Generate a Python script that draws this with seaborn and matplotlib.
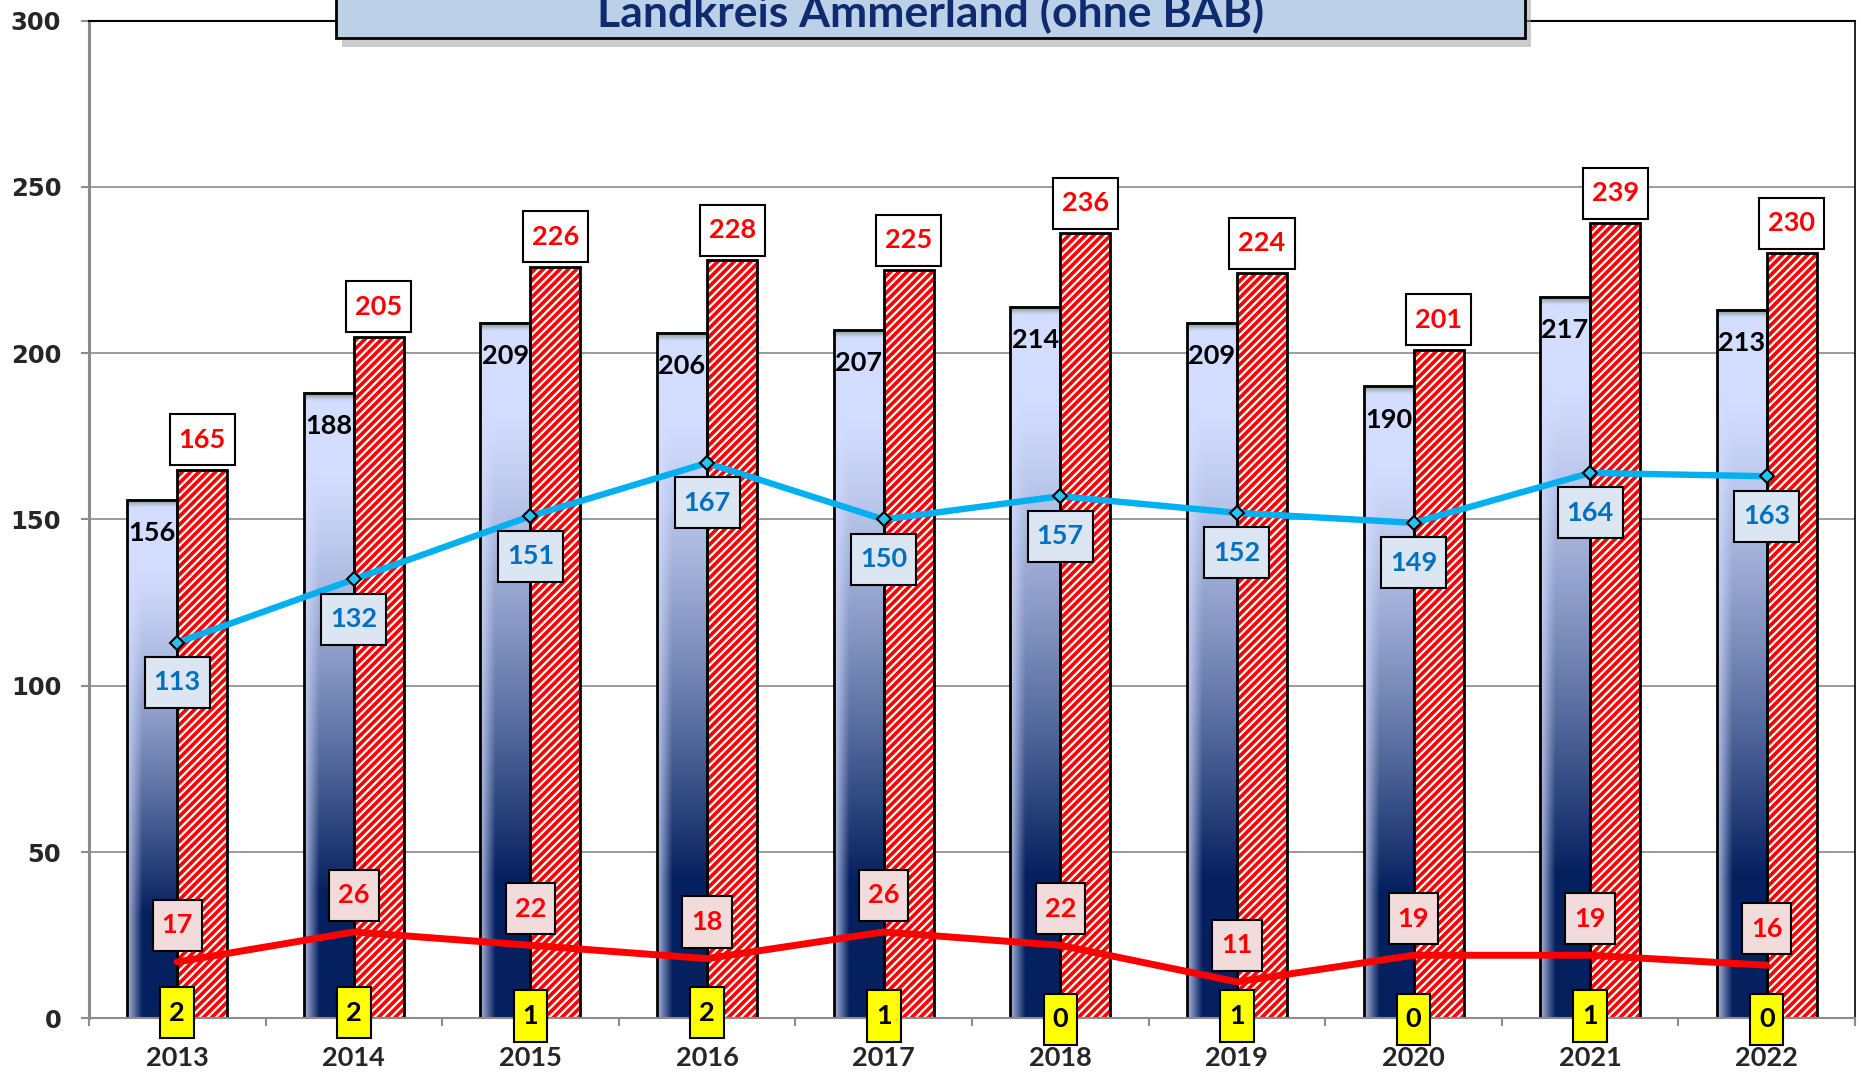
import numpy as np
import pandas as pd
import seaborn as sns
import matplotlib.pyplot as plt
from matplotlib.patches import Rectangle
from matplotlib.path import Path
from matplotlib.colors import to_rgb

years = ['2013', '2014', '2015', '2016', '2017', '2018', '2019', '2020', '2021', '2022']
bar_blue = [156, 188, 209, 206, 207, 214, 209, 190, 217, 213]
bar_red = [165, 205, 226, 228, 225, 236, 224, 201, 239, 230]
line_blue = [113, 132, 151, 167, 150, 157, 152, 149, 164, 163]
line_red = [17, 26, 22, 18, 26, 22, 11, 19, 19, 16]
yellow = [2, 2, 1, 2, 1, 0, 1, 0, 1, 0]
title = 'Landkreis Ammerland (ohne BAB)'

sns.set_style('white')
plt.rcParams['font.family'] = ['Lato', 'DejaVu Sans']
plt.rcParams['hatch.linewidth'] = 1.6


def tallbox(x0, y0, width, height, mutation_size):
    # label box: a bit more room above and below than left and right
    px, py = 0.33 * mutation_size, 0.5 * mutation_size
    return Path([(x0 - px, y0 - py), (x0 + width + px, y0 - py),
                 (x0 + width + px, y0 + height + py), (x0 - px, y0 + height + py),
                 (x0 - px, y0 - py)], closed=True)


fig = plt.figure(figsize=(18.61, 10.74), dpi=100)
ax = fig.add_axes([0.0478, 0.0517, 0.9490, 0.9292])

n = len(years)
bars = pd.DataFrame({'Jahr': years * 2,
                     'Wert': bar_blue + bar_red,
                     'Reihe': ['a'] * n + ['b'] * n})
sns.barplot(data=bars, x='Jahr', y='Wert', hue='Reihe',
            palette=['#8ea2d8', '#ff0000'], width=0.566, gap=0,
            saturation=1, legend=False, ax=ax, zorder=2)

# blue bars: gradient fill
light = np.array(to_rgb('#d3ddff'))
navy = np.array(to_rgb('#04205e'))
cap = np.array(to_rgb('#7f9789'))
rows, cols = 300, 60
v = np.linspace(0, 1, rows)[:, None]
hh = np.linspace(0, 1, cols)[None, :]
for p in ax.patches[:n]:
    x0, y0, w, h = p.get_x(), p.get_y(), p.get_width(), p.get_height()
    d = np.clip((v - 0.12) / 0.68, 0, 1) ** 1.3 * np.clip(0.2 + hh * 2.6, 0, 1)
    img = light * (1 - d[..., None]) + navy * d[..., None]
    cf = 2.2 / h
    m = v[:, 0] < cf
    t = (v[m, 0] / cf)[:, None, None]
    img[m] = cap * (1 - t) + light * t
    ax.imshow(img, extent=[x0, x0 + w, y0, y0 + h], aspect='auto',
              zorder=2.1, interpolation='bilinear')
    p.set_facecolor('none')
    p.set_edgecolor('black')
    p.set_linewidth(2)
    p.set_zorder(2.2)

# red bars: hatched
for p in ax.patches[n:2 * n]:
    p.set_facecolor('#ff0000')
    p.set_edgecolor('white')
    p.set_hatch('////')
    p.set_linewidth(0)
    ax.add_patch(Rectangle((p.get_x(), p.get_y()), p.get_width(), p.get_height(),
                           fill=False, ec='black', lw=2, zorder=2.3))

pos = np.arange(n)
sns.lineplot(x=pos, y=line_blue, color='#00b0f0', lw=4.6, marker='D',
             markersize=7, markerfacecolor='#2cc0f0', markeredgecolor='black',
             markeredgewidth=1.5, ax=ax, zorder=4)
sns.lineplot(x=pos, y=line_red, color='#ff0000', lw=5, ax=ax, zorder=4)

kw = dict(ha='center', va='center', fontsize=19.5, fontweight='bold', zorder=6)
for i in range(n):
    ax.text(i - 0.142, bar_blue[i] - 10, str(bar_blue[i]), color='black', **kw)
    ax.text(i + 0.142, bar_red[i] + 9, str(bar_red[i]), color='#ff0000',
            bbox=dict(boxstyle=tallbox, fc='white', ec='black', lw=1.5), **kw)
    ax.text(i, line_blue[i] - 12, str(line_blue[i]), color='#0070c0',
            bbox=dict(boxstyle=tallbox, fc='#dce6f2', ec='black', lw=1.5), **kw)
    ax.text(i, line_red[i] + 11, str(line_red[i]), color='#ff0000',
            bbox=dict(boxstyle=tallbox, fc='#f2dcdb', ec='black', lw=1.5), **kw)
    ax.text(i, yellow[i] - 0.25, str(yellow[i]), color='black',
            bbox=dict(boxstyle=tallbox, fc='#ffff00', ec='black', lw=1.5), **kw)

ax.set_xlim(-0.5, n - 0.5)
ax.set_ylim(0, 300)
ax.set(xlabel='', ylabel='')
ax.set_yticks(range(0, 301, 50))
ax.set_xticks(np.arange(-0.5, n, 1), minor=True)
ax.yaxis.grid(True, color='#8a8a8a', lw=1.2)
ax.set_axisbelow(True)

ax.tick_params(axis='y', left=True, direction='out', length=6, width=1.5,
               color='#8c8c8c', pad=14, labelsize=17.5)
ax.tick_params(axis='x', which='major', bottom=True, length=0, pad=20, labelsize=19.5)
ax.tick_params(axis='x', which='minor', bottom=True, direction='out', length=6,
               width=1.5, color='#8c8c8c')
for lbl in ax.get_yticklabels():
    lbl.set_fontfamily('DejaVu Sans')
    lbl.set_fontweight('bold')
for lbl in ax.get_xticklabels():
    lbl.set_fontweight('bold')

ax.spines['left'].set_color('#8c8c8c')
ax.spines['left'].set_linewidth(2.2)
ax.spines['bottom'].set_color('#8c8c8c')
ax.spines['bottom'].set_linewidth(1.5)
ax.spines['top'].set_color('black')
ax.spines['top'].set_linewidth(1.5)
ax.spines['right'].set_color('black')
ax.spines['right'].set_linewidth(1.2)

# title box, cut by the top edge
bx, bw, by = 336 / 1861, (1525 - 336) / 1861, 1 - 38 / 1074
fig.add_artist(Rectangle((bx + 0.003, by - 0.008), bw, 0.1, transform=fig.transFigure,
                         fc='#9a9a9a', alpha=0.5, ec='none', zorder=5))
fig.add_artist(Rectangle((bx, by), bw, 0.1, transform=fig.transFigure,
                         fc='#bcd0e8', ec='black', lw=2, zorder=5.1))
fig.text(0.5, 1 - 27 / 1074, title, ha='center', va='baseline', fontsize=32,
         fontweight='bold', color='#0d2b6e', zorder=6)

fig.savefig('out.png', dpi=100)
